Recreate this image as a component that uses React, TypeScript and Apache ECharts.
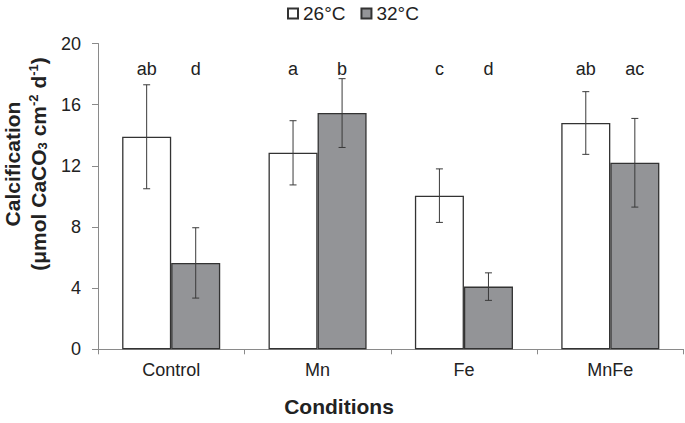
import React, { useEffect, useRef } from "react";
import * as echarts from "echarts";

const categories = ["Control", "Mn", "Fe", "MnFe"];
const values26 = [13.9, 12.85, 10.05, 14.8];
const errors26 = [3.4, 2.1, 1.75, 2.05];
const values32 = [5.65, 15.45, 4.1, 12.2];
const errors32 = [2.3, 2.25, 0.9, 2.9];
const letters26 = ["ab", "a", "c", "ab"];
const letters32 = ["d", "b", "d", "ac"];
const yTicks = { min: 0, max: 20, interval: 4 };
const LETTER_LEVEL = 18.33;

const FONT = "'Liberation Sans', Arial, Helvetica, sans-serif";
const CAT_GAP = 0.33;

function errorSeries(name: string, vals: number[], errs: number[], letters: string[], side: number) {
  return {
    type: "custom",
    name: name + "_err",
    z: 5,
    silent: true,
    data: vals.map((v, i) => [i, v, errs[i]]),
    renderItem: (params: any, api: any) => {
      const idx = params.dataIndex;
      const cat = api.value(0);
      const v = api.value(1);
      const e = api.value(2);
      const catW = api.size([1, 0])[0];
      const off = (side * catW * (1 - CAT_GAP)) / 4;
      const top = api.coord([cat, v + e]);
      const bot = api.coord([cat, v - e]);
      const lt = api.coord([cat, LETTER_LEVEL]);
      const x = top[0] + off;
      const cap = 3.5;
      const st = { stroke: "#3a3a3a", lineWidth: 1 };
      return {
        type: "group",
        children: [
          { type: "line", shape: { x1: x, y1: top[1], x2: x, y2: bot[1] }, style: st },
          { type: "line", shape: { x1: x - cap, y1: top[1], x2: x + cap, y2: top[1] }, style: st },
          { type: "line", shape: { x1: x - cap, y1: bot[1], x2: x + cap, y2: bot[1] }, style: st },
          {
            type: "text",
            x: x,
            y: lt[1],
            style: {
              text: letters[idx],
              fill: "#222",
              font: `18px ${FONT}`,
              align: "center",
              verticalAlign: "middle",
            },
          },
        ],
      };
    },
  };
}

export default function App() {
  const ref = useRef<HTMLDivElement>(null);
  useEffect(() => {
    if (!ref.current) return;
    const chart = echarts.init(ref.current, null, { renderer: "svg" });
    chart.setOption({
      animation: false,
      backgroundColor: "#ffffff",
      textStyle: { fontFamily: FONT },
      legend: {
        data: ["26°C", "32°C"],
        left: 282,
        top: -1,
        icon: "rect",
        itemWidth: 10,
        itemHeight: 10,
        itemGap: 15,
        textStyle: { fontSize: 19, color: "#222", fontFamily: FONT },
      },
      grid: { left: 98, right: 1.5, top: 43.5, bottom: 73.7, containLabel: false },
      xAxis: {
        type: "category",
        data: categories,
        axisLine: { lineStyle: { color: "#8a8a8a", width: 1 } },
        axisTick: { show: true, length: 5, lineStyle: { color: "#8a8a8a" } },
        axisLabel: { fontSize: 18, color: "#222", margin: 12, fontFamily: FONT },
      },
      yAxis: {
        type: "value",
        min: yTicks.min,
        max: yTicks.max,
        interval: yTicks.interval,
        splitLine: { show: false },
        axisLine: { show: true, lineStyle: { color: "#8a8a8a", width: 1 } },
        axisTick: { show: true, length: 6, lineStyle: { color: "#8a8a8a" } },
        axisLabel: { fontSize: 18, color: "#222", margin: 17, fontFamily: FONT },
      },
      series: [
        {
          type: "bar",
          name: "26°C",
          data: values26,
          barGap: "0%",
          barCategoryGap: CAT_GAP * 100 + "%",
          itemStyle: { color: "#ffffff", borderColor: "#333", borderWidth: 1.3 },
        },
        {
          type: "bar",
          name: "32°C",
          data: values32,
          barGap: "0%",
          barCategoryGap: CAT_GAP * 100 + "%",
          itemStyle: { color: "#939497", borderColor: "#333", borderWidth: 1.3 },
        },
        errorSeries("26°C", values26, errors26, letters26, -1),
        errorSeries("32°C", values32, errors32, letters32, 1),
      ],
      graphic: [
        {
          type: "text",
          x: 25,
          y: 164,
          rotation: Math.PI / 2,
          style: {
            text:
              "{b|Calcification}\n{b|(μmol CaCO}{sub|3}{b| cm}{sup|-2}{b| d}{sup|-1}{b|)}",
            align: "center",
            verticalAlign: "middle",
            rich: {
              b: { fontSize: 21, fontWeight: "bold", fontFamily: FONT, fill: "#222", lineHeight: 26 },
              sub: { fontSize: 13, fontWeight: "bold", fontFamily: FONT, fill: "#222", padding: [9, 0, 0, 0] },
              sup: { fontSize: 13, fontWeight: "bold", fontFamily: FONT, fill: "#222", padding: [0, 0, 9, 0] },
            },
          },
        },
        {
          type: "text",
          x: 339,
          y: 406,
          style: {
            text: "Conditions",
            font: `bold 21px ${FONT}`,
            fill: "#222",
            align: "center",
            verticalAlign: "middle",
          },
        },
      ],
    });
    return () => chart.dispose();
  }, []);
  return <div ref={ref} style={{ width: 685, height: 423, position: "absolute", left: 0, top: 0 }} />;
}
